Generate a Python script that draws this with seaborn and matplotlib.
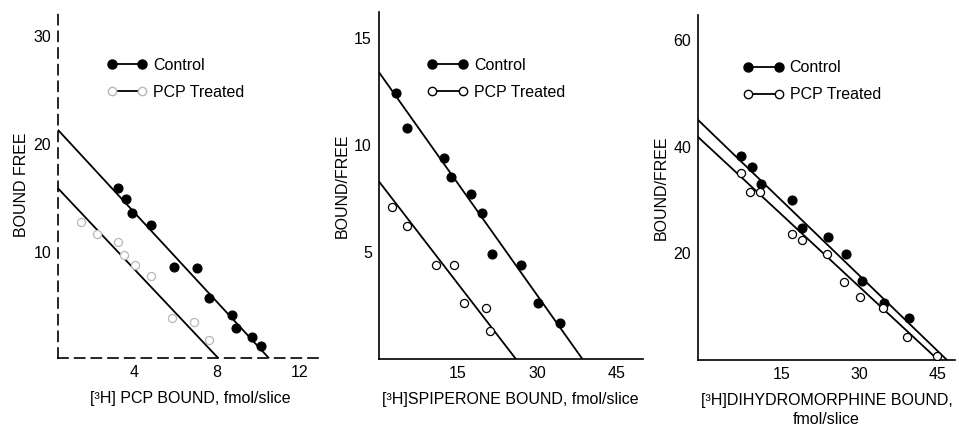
import matplotlib
matplotlib.use("Agg")
import matplotlib.pyplot as plt
from matplotlib.lines import Line2D
import seaborn as sns
import pandas as pd

sns.set_style("white")
plt.rcParams['font.family'] = ['Liberation Sans', 'DejaVu Sans']
plt.rcParams['text.color'] = 'black'
plt.rcParams['axes.labelcolor'] = 'black'

# ---- panel A: [3H]PCP
pcp_ctrl_x = [3.2, 3.6, 3.9, 4.8, 5.9, 7.0, 7.6, 8.7, 8.9, 9.7, 10.1]
pcp_ctrl_y = [15.9, 14.9, 13.6, 12.5, 8.6, 8.5, 5.8, 4.2, 3.0, 2.2, 1.3]
pcp_trt_x = [1.4, 2.2, 3.2, 3.5, 4.0, 4.8, 5.8, 6.9, 7.6]
pcp_trt_y = [12.8, 11.7, 10.9, 9.7, 8.8, 7.8, 3.9, 3.5, 1.9]
pcp_ctrl_fit_x = [0.3, 10.5]
pcp_ctrl_fit_y = [21.3, 0.2]
pcp_trt_fit_x = [0.3, 8.05]
pcp_trt_fit_y = [15.9, 0.2]

# ---- panel B: [3H]spiperone
spi_ctrl_x = [3.3, 5.4, 12.4, 13.6, 17.4, 19.5, 21.4, 27.0, 30.2, 34.4]
spi_ctrl_y = [12.4, 10.8, 9.4, 8.5, 7.7, 6.8, 4.9, 4.4, 2.6, 1.7]
spi_trt_x = [2.5, 5.4, 10.9, 14.3, 16.1, 20.3, 21.0]
spi_trt_y = [7.1, 6.2, 4.4, 4.4, 2.6, 2.4, 1.3]
spi_ctrl_fit_x = [0.0, 38.6]
spi_ctrl_fit_y = [13.4, 0.0]
spi_trt_fit_x = [0.0, 26.0]
spi_trt_fit_y = [8.3, 0.0]

# ---- panel C: [3H]dihydromorphine
dhm_ctrl_x = [7.1, 9.2, 10.9, 16.9, 18.9, 23.9, 27.4, 30.5, 34.8, 39.6]
dhm_ctrl_y = [38.3, 36.2, 33.0, 30.0, 24.8, 23.1, 19.9, 14.8, 10.7, 7.9]
dhm_trt_x = [7.1, 8.8, 10.7, 16.9, 18.9, 23.7, 27.0, 30.1, 34.5, 39.2, 45.0]
dhm_trt_y = [35.1, 31.5, 31.5, 23.6, 22.5, 19.9, 14.6, 11.8, 9.7, 4.3, 0.7]
dhm_ctrl_fit_x = [-1.2, 46.9]
dhm_ctrl_fit_y = [45.0, 0.0]
dhm_trt_fit_x = [-1.2, 45.2]
dhm_trt_fit_y = [41.8, 0.0]

panels = [
    dict(cx=pcp_ctrl_x, cy=pcp_ctrl_y, tx=pcp_trt_x, ty=pcp_trt_y,
         cfx=pcp_ctrl_fit_x, cfy=pcp_ctrl_fit_y, tfx=pcp_trt_fit_x, tfy=pcp_trt_fit_y,
         xlim=(0.3, 13.1), ylim=(0.2, 32.2), xticks=[4, 8, 12], yticks=[10, 20, 30],
         xlabel="[\u00b3H] PCP BOUND, fmol/slice", ylabel="BOUND FREE",
         pos=[0.0605, 0.167, 0.276, 0.805], trt_col="#b8b8b8", dashed=True),
    dict(cx=spi_ctrl_x, cy=spi_ctrl_y, tx=spi_trt_x, ty=spi_trt_y,
         cfx=spi_ctrl_fit_x, cfy=spi_ctrl_fit_y, tfx=spi_trt_fit_x, tfy=spi_trt_fit_y,
         xlim=(0, 50), ylim=(0, 16.2), xticks=[15, 30, 45], yticks=[5, 10, 15],
         xlabel="[\u00b3H]SPIPERONE BOUND, fmol/slice", ylabel="BOUND/FREE",
         pos=[0.395, 0.165, 0.275, 0.807], trt_col="black", dashed=False),
    dict(cx=dhm_ctrl_x, cy=dhm_ctrl_y, tx=dhm_trt_x, ty=dhm_trt_y,
         cfx=dhm_ctrl_fit_x, cfy=dhm_ctrl_fit_y, tfx=dhm_trt_fit_x, tfy=dhm_trt_fit_y,
         xlim=(-1.2, 48.5), ylim=(0, 64.7), xticks=[15, 30, 45], yticks=[20, 40, 60],
         xlabel="[\u00b3H]DIHYDROMORPHINE BOUND,\nfmol/slice", ylabel="BOUND/FREE",
         pos=[0.728, 0.163, 0.268, 0.802], trt_col="black", dashed=False),
]

legend_pos = [(0.13, 0.91), (0.13, 0.91), (0.12, 0.91)]

fig = plt.figure(figsize=(9.59, 4.30), dpi=100)

for i, p in enumerate(panels):
    ax = fig.add_axes(p["pos"])
    sns.lineplot(x=p["cfx"], y=p["cfy"], ax=ax, color="black", lw=1.3)
    sns.lineplot(x=p["tfx"], y=p["tfy"], ax=ax, color="black", lw=1.3)
    sns.scatterplot(x=p["cx"], y=p["cy"], ax=ax, color="black", s=42,
                    edgecolor="black", linewidth=0.8, zorder=3)
    sns.scatterplot(x=p["tx"], y=p["ty"], ax=ax, facecolor="white", s=34,
                    edgecolor=p["trt_col"], linewidth=0.9, zorder=3)
    ax.set_xlim(*p["xlim"])
    ax.set_ylim(*p["ylim"])
    ax.set_xticks(p["xticks"])
    ax.set_yticks(p["yticks"])
    ax.tick_params(direction="in", length=4, width=1, labelsize=11.5,
                   colors="black", pad=5)
    for side in ["top", "right"]:
        ax.spines[side].set_visible(False)
    for side in ["left", "bottom"]:
        ax.spines[side].set_color("black")
        ax.spines[side].set_linewidth(1.2)
        if p["dashed"]:
            ax.spines[side].set_linestyle((0, (6, 4)))
    ax.set_xlabel(p["xlabel"], fontsize=11.5, labelpad=8, linespacing=1.3)
    ax.set_ylabel(p["ylabel"], fontsize=11.5, labelpad=3)

    h_ctrl = Line2D([], [], color="black", lw=1.3, marker="o", ms=6.5,
                    markerfacecolor="black", markeredgecolor="black")
    h_trt = Line2D([], [], color="black", lw=1.3, marker="o", ms=6,
                   markerfacecolor="white", markeredgecolor=p["trt_col"] if i == 0 else "black")
    ax.legend([h_ctrl, h_trt], ["Control", "PCP Treated"], numpoints=2,
              loc="upper left", bbox_to_anchor=legend_pos[i], frameon=False,
              fontsize=11.5, handlelength=2.5, handletextpad=0.4, labelspacing=0.75)

fig.savefig("out.png", dpi=100)
